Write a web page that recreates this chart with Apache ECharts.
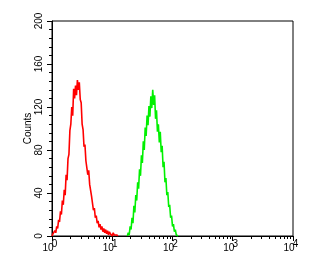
<!DOCTYPE html>
<html><head><meta charset="utf-8">
<script src="https://cdn.jsdelivr.net/npm/echarts@6/dist/echarts.min.js"></script>
<style>html,body{margin:0;padding:0;background:#fff}#c{width:312px;height:271px}</style>
</head><body><div id="c"></div>
<script>
// histogram channels: 64 bins per decade on a log scale (10^0 .. 10^4)
const binsPerDecade = 64;
const redStartBin = 0;
const redCounts = [0,2,1,5,3,9,7,15,13,23,20,33,29,43,38,57,52,72,76,98,104,120,112,137,128,140,131,145,136,143,127,124,104,99,83,85,70,71,57,61,48,49,37,38,24,26,17,19,12,14,8,11,6,9,4,7,3,6,2,5,1,4,2,3,0,3,1,2,0,1,0];
const greenStartBin = 80;
const greenCounts = [0,3,1,9,6,17,12,28,22,38,33,50,44,62,56,75,68,88,80,101,93,112,103,121,111,130,119,136,122,131,109,117,97,104,87,97,78,84,64,69,50,54,38,41,27,29,17,19,9,11,4,6,1,2,0];
const xMajorTicks = [1,10,100,1000,10000];
const xTickBase = '10';
const xTickExponents = ['0','1','2','3','4'];
const xMinorTicks = [2,3,4,5,6,7,8,9,20,30,40,50,60,70,80,90,200,300,400,500,600,700,800,900,2000,3000,4000,5000,6000,7000,8000,9000];
const yMin = 0, yMax = 200, yStep = 40;
const yTitle = 'Counts';

function toPoints(start, counts){
  return counts.map((c,i)=>[Math.pow(10,(start+i)/binsPerDecade), c]);
}
function majorIndex(v){ return xMajorTicks.findIndex(t=>Math.abs(t-v)/t<1e-6); }
const font = 'Liberation Sans, Arial, sans-serif';
const chart = echarts.init(document.getElementById('c'));
const logAxisBase = {type:'log', logBase:10, min:1, max:10000, gridIndex:0, position:'bottom', splitLine:{show:false}};
chart.setOption({
  animation:false,
  backgroundColor:'#fff',
  grid:{left:52,right:19,top:21,bottom:35,show:true,borderColor:'#000',borderWidth:1,backgroundColor:'transparent',containLabel:false,outerBoundsMode:'none'},
  xAxis:[
    Object.assign({}, logAxisBase, {
      axisLine:{show:true,lineStyle:{color:'#000',width:1}},
      axisTick:{show:true,inside:false,length:5,lineStyle:{color:'#000'}},
      axisLabel:{
        margin:7, color:'#000', fontFamily:font, fontSize:10, padding:[0,8,0,0],
        formatter:function(v){ return majorIndex(v)<0 ? '' : xTickBase; }
      }
    }),
    Object.assign({}, logAxisBase, {
      axisLine:{show:false}, axisTick:{show:false},
      axisLabel:{
        margin:3, color:'#000', fontFamily:font, fontSize:10, padding:[0,0,0,5],
        formatter:function(v){ const k=majorIndex(v); return k<0 ? '' : xTickExponents[k]; }
      }
    })
  ],
  yAxis:{
    type:'value', min:yMin, max:yMax, interval:yStep,
    name:yTitle, nameLocation:'middle', nameGap:19, nameRotate:90, nameMoveOverlap:false,
    nameTextStyle:{fontSize:10,color:'#000',fontFamily:font},
    axisLine:{show:true,lineStyle:{color:'#000',width:1}},
    axisTick:{show:true,inside:false,length:5,lineStyle:{color:'#000'}},
    minorTick:{show:true,splitNumber:5,length:3,lineStyle:{color:'#000'}},
    splitLine:{show:false},
    axisLabel:{rotate:90,margin:8,fontSize:10,color:'#000',fontFamily:font}
  },
  series:[
    {type:'line',xAxisIndex:0,data:toPoints(redStartBin,redCounts),showSymbol:false,lineStyle:{color:'#ff0000',width:1.6},itemStyle:{color:'#ff0000'},z:3},
    {type:'line',xAxisIndex:0,data:toPoints(greenStartBin,greenCounts),showSymbol:false,lineStyle:{color:'#00f000',width:1.6},itemStyle:{color:'#00f000'},z:3},
    {type:'custom',xAxisIndex:0,silent:true,clip:false,z:10,
      data:xMinorTicks.map(v=>[v,0]),
      renderItem:function(params,api){
        const p = api.coord([api.value(0),0]);
        const x = Math.round(p[0])+0.5;
        return {type:'line',shape:{x1:x,y1:p[1],x2:x,y2:p[1]+3},style:{stroke:'#000',lineWidth:1}};
      }
    }
  ]
});
</script></body></html>
